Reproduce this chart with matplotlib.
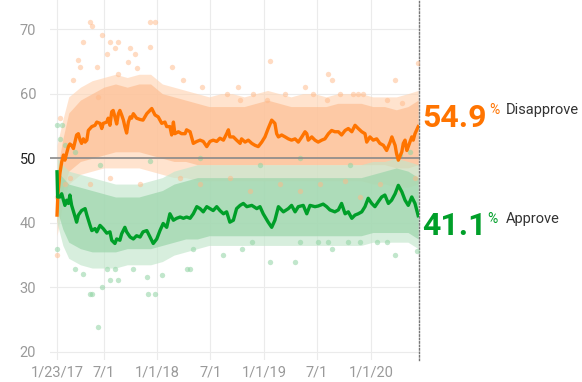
import numpy as np
import pandas as pd
import matplotlib
matplotlib.use('Agg')
import matplotlib.pyplot as plt

plt.rcParams['font.family'] = ['Roboto', 'DejaVu Sans']

start = pd.Timestamp('2017-01-23')

# smoothed averages, days since 1/23/17
dis_days = [0, 3, 10, 16, 22, 27, 33, 39, 44, 50, 56, 67, 73, 79, 84, 90, 96, 102, 107, 119,
            130, 136, 147, 153, 158, 170, 175, 181, 187, 192, 198, 204, 210, 215, 221, 227, 232,
            238, 244, 250, 255, 261, 272, 284, 294, 307, 324, 335, 346, 358, 369, 375, 386, 392,
            398, 403, 415, 426, 438, 443, 455, 466, 478, 489, 500, 512, 523, 534, 546, 557, 569,
            580, 586, 591, 603, 614, 626, 631, 643, 654, 666, 677, 688, 700, 711, 722, 734, 745,
            751, 757, 768, 780, 791, 802, 814, 825, 837, 848, 854, 859, 871, 882, 893, 905, 916,
            928, 939, 950, 962, 973, 985, 996, 1008, 1019, 1030, 1042, 1053, 1059, 1070, 1081,
            1093, 1104, 1116, 1127, 1139, 1145, 1156, 1161, 1167, 1179, 1184, 1190, 1196, 1201,
            1213, 1218, 1224, 1235]
dis_vals = [41.2, 44.5, 47.7, 49.4, 50.5, 49.7, 50.8, 51.8, 52.2, 52.0, 51.5, 53.6, 53.8, 52.8,
            52.3, 53.0, 52.5, 52.8, 54.3, 54.9, 55.1, 55.6, 55.4, 54.6, 55.4, 55.6, 56.2, 55.1,
            57.2, 57.4, 56.4, 55.3, 56.9, 57.4, 56.7, 55.9, 54.9, 53.9, 55.6, 56.4, 56.2, 56.9,
            56.2, 56.0, 55.9, 56.9, 57.7, 56.7, 56.4, 55.4, 55.6, 54.9, 54.9, 53.6, 55.6, 53.8,
            54.1, 53.8, 53.8, 54.4, 54.1, 52.3, 52.6, 52.8, 52.6, 51.8, 52.6, 52.8, 52.6, 53.1,
            52.8, 53.8, 54.4, 53.3, 53.3, 52.8, 52.3, 53.0, 52.5, 52.8, 52.3, 52.0, 51.8, 52.5,
            53.3, 54.6, 55.9, 55.4, 53.8, 53.3, 53.6, 53.3, 53.0, 52.8, 53.0, 52.5, 53.3, 54.1,
            53.8, 52.8, 53.3, 52.8, 52.5, 52.8, 53.0, 53.8, 54.3, 54.1, 54.1, 53.6, 54.3, 54.6,
            54.1, 55.1, 54.6, 54.1, 53.8, 52.5, 53.3, 52.8, 53.0, 52.3, 52.0, 51.2, 52.5, 53.3,
            52.0, 50.7, 49.7, 51.0, 52.3, 52.8, 51.2, 51.8, 53.3, 52.8, 53.8, 54.9]

app_days = [0, 2, 10, 16, 22, 27, 33, 39, 44, 50, 62, 67, 73, 84, 96, 102, 113, 119, 130, 136,
            147, 158, 170, 181, 187, 198, 204, 215, 221, 232, 238, 250, 261, 272, 284, 294, 307,
            318, 329, 341, 352, 363, 375, 386, 398, 409, 421, 432, 443, 455, 466, 478, 489, 500,
            512, 523, 534, 546, 557, 569, 580, 591, 603, 614, 626, 637, 649, 666, 683, 694, 705,
            722, 734, 745, 757, 774, 791, 802, 814, 825, 842, 854, 865, 882, 893, 910, 922, 933,
            950, 962, 973, 985, 996, 1008, 1019, 1030, 1042, 1053, 1064, 1076, 1087, 1099, 1110,
            1121, 1133, 1144, 1156, 1167, 1179, 1190, 1201, 1213, 1224, 1235]
app_vals = [47.9, 44.0, 44.0, 44.5, 43.5, 42.7, 43.5, 43.0, 44.3, 42.7, 40.9, 40.1, 41.2, 41.9,
            42.2, 41.2, 39.6, 38.8, 39.1, 38.6, 39.6, 39.1, 38.4, 38.6, 37.3, 36.8, 37.5, 37.3,
            38.3, 39.3, 38.6, 37.8, 37.5, 38.0, 37.8, 38.6, 38.8, 37.8, 36.8, 37.5, 38.8, 39.9,
            39.3, 41.4, 40.4, 40.7, 40.9, 40.7, 40.9, 40.7, 41.4, 42.5, 42.2, 41.7, 42.5, 42.2,
            41.9, 42.5, 41.9, 41.4, 41.7, 40.1, 40.4, 42.2, 42.7, 43.0, 42.5, 42.7, 42.2, 42.5,
            41.4, 40.1, 39.3, 40.4, 42.5, 41.7, 42.2, 42.7, 41.7, 42.5, 42.7, 41.4, 42.7, 42.5,
            42.6, 42.9, 42.5, 42.0, 41.7, 42.0, 43.0, 41.4, 41.7, 40.7, 41.2, 41.4, 41.7, 42.5,
            43.8, 43.0, 42.5, 43.3, 44.0, 44.3, 43.0, 43.5, 44.5, 45.8, 44.8, 43.5, 42.7, 44.0,
            43.0, 41.1]

# extent of the poll clouds: dense core and sparse fringe
band_days = [0, 20, 40, 80, 120, 160, 200, 240, 280, 320, 360, 400, 440, 480, 520, 560, 600,
             640, 680, 720, 760, 800, 840, 880, 920, 960, 1000, 1040, 1080, 1120, 1160, 1200,
             1235]
dis_core_hi = [48, 53, 57, 59, 60, 61, 61.5, 61, 61.5, 61.5, 60, 59.5, 59, 58.5, 58, 58, 58,
               58, 58.5, 59, 58.5, 58, 58, 58, 58, 58.5, 58.5, 58.5, 58, 58, 57.5, 58, 59]
dis_core_lo = [40, 45, 48, 49.5, 50, 50.5, 51, 51, 51, 50.5, 50, 49.5, 49.5, 49, 49, 49, 49,
               49, 49, 49, 49, 49, 49, 49, 49, 49, 49, 49, 49, 49, 48.5, 48.5, 49]
dis_fringe_hi = [52, 56, 59.5, 61, 62, 62.5, 63, 62.5, 63, 63, 61.5, 61, 60.5, 60, 59.5, 60,
                 60, 59.5, 60, 60.5, 60, 59.5, 60, 60, 59.5, 60, 60, 60, 59.5, 59.5, 59.5, 60,
                 60.5]
dis_fringe_lo = [38, 43, 46, 47.5, 48, 48.5, 48.5, 48.5, 48.5, 48, 47.5, 47, 47, 46.5, 46.5,
                 46.5, 46.5, 46.5, 46.5, 46.5, 46.5, 46.5, 46.5, 46.5, 46.5, 46.5, 46.5, 46.5,
                 46, 46, 45.5, 45.5, 46]
app_core_hi = [48, 47, 46, 45.5, 45, 44.5, 44, 44, 44, 44.5, 45, 46, 46.5, 47, 47, 47, 47, 47,
               47, 47, 47, 47, 47, 47, 47, 47, 47, 47, 47.5, 48, 48.5, 48, 47]
app_core_lo = [42, 39, 37, 36, 35.5, 35.5, 35.5, 36, 36, 36, 36.5, 37, 37.5, 37.5, 38, 38, 38,
               38, 38, 38, 38, 38, 38, 38, 38, 38, 38, 38, 38.5, 38.5, 38.5, 38.5, 37.5]
app_fringe_hi = [50, 49, 48, 47.5, 47, 46.5, 46, 46, 46, 46.5, 47, 48, 48.5, 49, 49, 49, 49,
                 49, 49, 49, 49, 49, 49, 49, 49, 49, 49, 49, 49.5, 49.5, 50, 49.5, 49]
app_fringe_lo = [40, 36.5, 34.5, 33.5, 33, 33, 33, 33.5, 33.5, 33.5, 34, 35, 35.5, 36, 36.5,
                 36.5, 36.5, 36.5, 36.5, 36.5, 36.5, 36.5, 36.5, 36.5, 36.5, 36.5, 36.5, 36.5,
                 37, 37, 37, 37, 36]

# individual polls outside the dense part
dis_poll_days = [113, 119, 153, 181, 210, 318, 335, 90, 170, 198, 250, 267, 73, 79, 136, 244,
                 318, 272, 210, 56, 392, 432, 10, 141, 728, 928, 939, 1156, 1235, 495, 620, 848,
                 671, 580, 780, 876, 968, 1012, 1029, 1046, 1127, 1179, 922, 626, 717, 0,
                 0, 27, 44, 113, 181, 284, 421, 489, 591, 660, 762, 831, 899, 985, 1036, 1104,
                 1173, 1224]
dis_poll_vals = [71.1, 70.4, 69.1, 68.0, 68.0, 71.1, 71.1, 68.0, 66.2, 67.0, 67.0, 66.2, 65.2,
                 64.2, 64.2, 64.9, 67.3, 63.9, 63.1, 62.1, 64.2, 62.1, 56.2, 59.5, 65.0, 63.1,
                 62.1, 62.1, 64.7, 61.1, 61.1, 61.1, 60.0, 60.0, 60.0, 60.0, 60.0, 60.0, 60.0,
                 60.0, 59.0, 58.5, 59.0, 59.0, 59.0, 35.0,
                 44, 46, 47, 46, 47, 46, 47, 46, 47, 45, 46, 45, 46, 46.5, 44, 46, 45, 47]
app_poll_days = [113, 119, 141, 153, 181, 210, 312, 335, 90, 62, 170, 198, 261, 307, 358, 443,
                 0, 728, 814, 1156, 569, 631, 939, 1230, 466, 455, 666, 831, 893, 928, 996,
                 1036, 1093, 1127, 0, 16, 10, 27, 62, 147, 318, 489, 694, 831, 1002, 1173, 1207]
app_poll_vals = [29.0, 29.0, 23.9, 30.0, 31.1, 31.1, 29.0, 29.0, 32.1, 32.9, 32.9, 32.9, 32.9,
                 31.6, 31.9, 32.9, 36.0, 34.0, 34.0, 35.0, 35.0, 36.0, 36.0, 35.7, 36.0, 32.9,
                 37.0, 37.0, 37.0, 37.0, 37.0, 37.0, 37.0, 37.0, 55.1, 55.1, 53.0, 52.0, 51.0,
                 49.0, 49.5, 50.0, 49.0, 50.0, 49.0, 50.5, 51.0]

tick_dates = ['2017-01-23', '2017-07-01', '2018-01-01', '2018-07-01', '2019-01-01',
              '2019-07-01', '2020-01-01']
tick_labels = ['1/23/17', '7/1', '1/1/18', '7/1', '1/1/19', '7/1', '1/1/20']

def to_dates(days):
    return start + pd.to_timedelta(days, unit='D')

orange = '#ff7400'
green = '#009f29'

fig = plt.figure(figsize=(5.82, 3.82), dpi=100)
ax = fig.add_axes([50 / 582, 22 / 382, 368.5 / 582, 360 / 382])

bd = to_dates(band_days)
ax.fill_between(bd, dis_fringe_lo, dis_fringe_hi, color='#ffd5b5', alpha=0.65, linewidth=0,
                zorder=2)
ax.fill_between(bd, dis_core_lo, dis_core_hi, color='#fdbf94', alpha=0.7, linewidth=0,
                zorder=2)
ax.fill_between(bd, app_fringe_lo, app_fringe_hi, color='#c2e6cb', alpha=0.65, linewidth=0,
                zorder=2)
ax.fill_between(bd, app_core_lo, app_core_hi, color='#9dd6ac', alpha=0.72, linewidth=0,
                zorder=2)
ax.scatter(to_dates(dis_poll_days), dis_poll_vals, s=15, color='#ffb987', alpha=0.5,
           linewidths=0, zorder=3)
ax.scatter(to_dates(app_poll_days), app_poll_vals, s=15, color='#8fd3a2', alpha=0.55,
           linewidths=0, zorder=3)

ax.axhline(50, color='#8a8a8a', linewidth=1.2, zorder=4)

ax.plot(to_dates(dis_days), dis_vals, color=orange, linewidth=2.4, zorder=5,
        solid_joinstyle='round')
ax.plot(to_dates(app_days), app_vals, color=green, linewidth=2.4, zorder=5,
        solid_joinstyle='round')

ax.set_xlim(start - pd.Timedelta(days=24), start + pd.Timedelta(days=1236))
ax.set_ylim(18.76, 74.5)
ax.set_yticks([20, 30, 40, 50, 60, 70])
ax.set_xticks(pd.to_datetime(tick_dates))
ax.set_xticklabels(tick_labels)
ax.grid(True, color='#ebebeb', linewidth=0.8, zorder=0)
ax.set_axisbelow(True)
ax.tick_params(length=0, labelsize=10.5, colors='#9a9a9a', pad=4)
ax.tick_params(axis='y', pad=10)
for lbl in ax.get_yticklabels():
    if lbl.get_text() == '50':
        lbl.set_color('#222222')
for s in ['top', 'left', 'bottom']:
    ax.spines[s].set_visible(False)
ax.spines['right'].set_linestyle((0, (1, 1.5)))
ax.spines['right'].set_color('#777777')
ax.spines['right'].set_linewidth(1)

fig.text(422 / 582, (382 - 127) / 382, '%.1f' % dis_vals[-1], color=orange, fontsize=23,
         fontweight='bold', va='baseline', ha='left')
fig.text(489 / 582, (382 - 103) / 382, '%', color=orange, fontsize=10, va='top', ha='left')
fig.text(506 / 582, (382 - 103) / 382, 'Disapprove', color='#333333', fontsize=10.5,
         va='top', ha='left')
fig.text(422 / 582, (382 - 235) / 382, '%.1f' % app_vals[-1], color=green, fontsize=23,
         fontweight='bold', va='baseline', ha='left')
fig.text(487 / 582, (382 - 212) / 382, '%', color=green, fontsize=10, va='top', ha='left')
fig.text(506 / 582, (382 - 212) / 382, 'Approve', color='#333333', fontsize=10.5,
         va='top', ha='left')

fig.savefig('out.png', dpi=100)
